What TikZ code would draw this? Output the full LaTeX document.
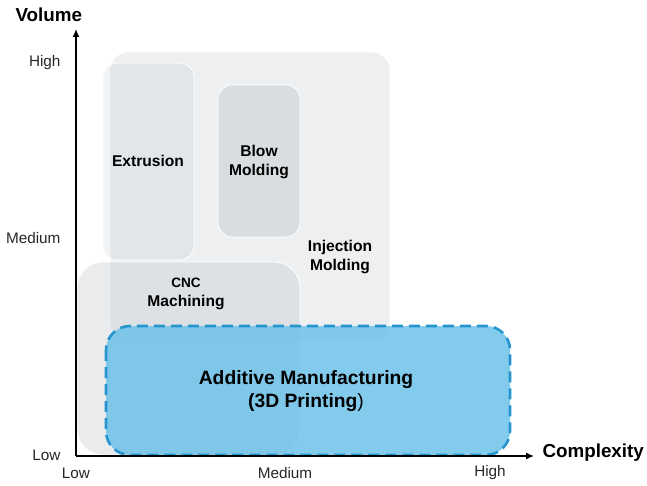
\documentclass[tikz,border=0pt]{standalone}
\usepackage{fontspec}
\setmainfont{Liberation Sans}
\usetikzlibrary{arrows.meta}
\definecolor{boxgray}{RGB}{184,192,198}
\definecolor{amfill}{RGB}{109,194,233}
\definecolor{amline}{RGB}{38,148,207}
\tikzset{
  procbox/.style={draw=white, line width=0.8pt, fill=boxgray},
  lbl/.style={font=\bfseries\fontsize{15.6}{19.5}\selectfont, align=center, text=black},
  tick/.style={font=\fontsize{15.3}{17}\selectfont, text=black!85},
  axistitle/.style={font=\bfseries\fontsize{18.8}{21}\selectfont},
  axisline/.style={line width=1.4pt, -{Latex[length=8pt,width=7pt]}}
}
\begin{document}
\begin{tikzpicture}[x=1pt,y=-1pt]
\useasboundingbox (0,0) rectangle (647,486);
% Injection molding
\fill[procbox, fill opacity=0.25, rounded corners=18pt] (110,52) rectangle (390,340);
% Extrusion
\fill[procbox, fill opacity=0.19, rounded corners=14pt] (103,63) rectangle (194,260);
% Blow molding
\fill[procbox, fill opacity=0.38, rounded corners=14pt] (218,85) rectangle (300,237);
% CNC
\fill[procbox, fill opacity=0.31, rounded corners=26pt] (77,262) rectangle (300,455);
% AM
\filldraw[fill=amfill, fill opacity=0.85, draw=amline, line width=2.6pt, dash pattern=on 11pt off 6pt, rounded corners=24pt] (106,326) rectangle (510,455);

\node[lbl] (extr) at (148,161) {Extrusion};
\node[lbl] (blow) at (259,162) {Blow\\Molding};
\node[lbl] (inj) at (340,257) {Injection\\Molding};
\node[lbl] (cnc) at (186,294) {{\fontsize{13.6}{18}\selectfont CNC}\\Machining};
\node[lbl, font=\bfseries\fontsize{19.3}{23.5}\selectfont] (am) at (306,391) {Additive Manufacturing\\(3D Printing\textmd{)}};

% axes
\coordinate (o) at (76,456);
\coordinate (ytop) at (76,29);
\coordinate (xend) at (534,456);
\draw[axisline] (o) -- (ytop);
\draw[axisline] (o) -- (xend);
\node[axistitle, anchor=west] (vol) at (12,15) {Volume};
\node[axistitle, anchor=west] (cpx) at (539,453) {Complexity};

\node[tick, anchor=east] (yh) at (64,63) {High};
\node[tick, anchor=east] (ym) at (64,238) {Medium};
\node[tick, anchor=east] (yl) at (64,455) {Low};
\node[tick] (xl) at (76,473) {Low};
\node[tick] (xm) at (285,473) {Medium};
\node[tick] (xh) at (490,473) {High};
\end{tikzpicture}
\end{document}
